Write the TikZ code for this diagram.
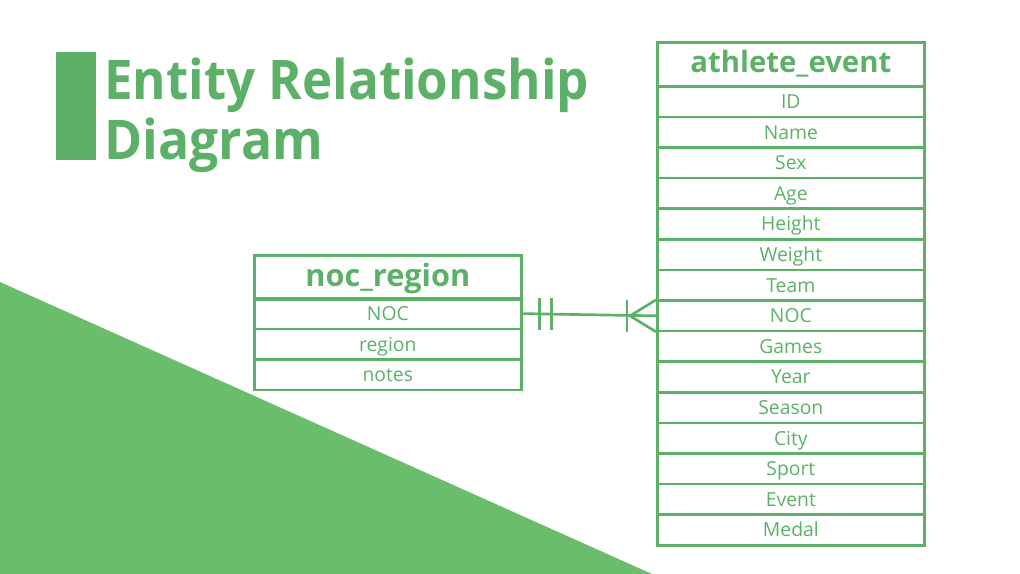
\documentclass[tikz,border=0pt]{standalone}
\usepackage{fontspec}
\setmainfont{Open Sans}
\usetikzlibrary{calc}
\definecolor{ergreen}{RGB}{92,176,104}
\definecolor{trigreen}{RGB}{106,189,106}
\begin{document}
\begin{tikzpicture}[x=0.75pt,y=-0.75pt,
  field/.style={draw=ergreen, line width=2pt, rectangle, inner sep=0pt,
    minimum width=200.25pt, minimum height=22.95pt, anchor=north west,
    text=ergreen, text height=10.4pt, text depth=0pt,
    font=\fontsize{14.5pt}{16pt}\selectfont},
  header/.style={field, minimum height=33pt, text height=12pt,
    font=\bfseries\fontsize{22pt}{25pt}\selectfont},
  rel/.style={draw=ergreen, line width=2pt},
  title/.style={anchor=base west, inner sep=0pt, text=ergreen,
    font=\bfseries\fontsize{41pt}{45pt}\selectfont}]
\useasboundingbox (0,0) rectangle (1020,574);

% background wedge and title
\fill[trigreen] (0,282) -- (652,574) -- (0,574) -- cycle;
\fill[ergreen] (56,52) rectangle (96,160);
\node[title] (t1) at (104,100) {\scalebox{0.935}[1]{Entity Relationship}};
\node[title] (t2) at (104,160) {\scalebox{0.945}[1]{Diagram}};

% athlete_event table
\node[header] (ae) at (656,41) {athlete\_event};
\foreach \f [count=\i] in {ID,Name,Sex,Age,Height,Weight,Team,NOC,Games,Year,Season,City,Sport,Event,Medal}
  \node[field] (ae-\i) at (656,{85+30.6*(\i-1)}) {\f};

% noc_region table
\node[header, text height=13pt, font=\bfseries\fontsize{23pt}{26pt}\selectfont] (nr) at (253,254) {noc\_region};
\foreach \f [count=\i] in {NOC,region,notes}
  \node[field] (nr-\i) at (253,{297+30.6*(\i-1)}) {\f};

% one-to-many relationship
\draw[rel] (nr-1.east) -- (ae-8.west);
\draw[rel] ($(nr-1.east)+(17,-16)$) -- ++(0,32);
\draw[rel] ($(nr-1.east)+(29,-16)$) -- ++(0,32);
\draw[rel] ($(ae-8.west)+(-29,-16)$) -- ++(0,32);
\draw[rel] ($(ae-8.west)+(0,-16)$) -- ($(ae-8.west)+(-26,0)$) -- ($(ae-8.west)+(0,16)$);
\end{tikzpicture}
\end{document}
